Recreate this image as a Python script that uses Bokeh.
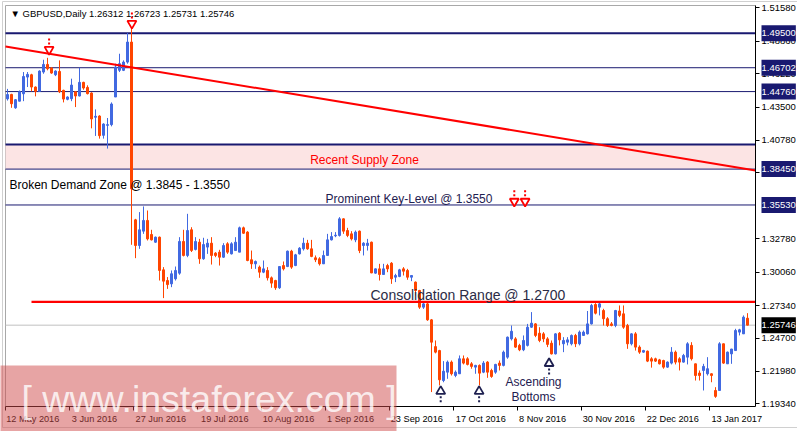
from bokeh.plotting import figure
from bokeh.models import ColumnDataSource, FixedTicker, Range1d, Label, LinearAxis, PrintfTickFormatter
from bokeh.core.properties import value
from bokeh.embed import file_html
from bokeh.resources import INLINE

# ---------------- data ----------------
symbol = "GBPUSD,Daily"
opens = [1.4417,1.4453,1.4344,1.4398,1.4458,1.4594,1.4613,1.4513,1.4478,1.4635,
         1.4697,1.4668,1.4613,1.4640,1.4486,1.4413,1.4418,1.4475,1.4440,1.4551,
         1.4510,1.4464,1.4267,1.4277,1.4120,1.4201,1.4207,1.4432,1.4649,1.4649,
         1.4716,1.4879,1.3432,1.3223,1.3340,1.3427,1.3313,1.3250,1.3291,1.3025,
         1.2938,1.2911,1.2952,1.2998,1.3256,1.3142,1.3351,1.3191,1.3250,1.3115,
         1.3210,1.3242,1.3161,1.3169,1.3128,1.3237,1.3155,1.3182,1.3169,1.3367,
         1.3332,1.3107,1.3074,1.3047,1.3006,1.3020,1.2960,1.2938,1.2879,1.3060,
         1.3052,1.3177,1.3060,1.3155,1.3196,1.3242,1.3196,1.3123,1.3115,1.3074,
         1.3142,1.3269,1.3302,1.3305,1.3440,1.3345,1.3318,1.3269,1.3340,1.3223,
         1.3223,1.3250,1.2998,1.3033,1.2987,1.3060,1.3079,1.2965,1.2971,1.3033,
         1.3020,1.2965,1.2925,1.2857,1.2721,1.2748,1.2618,1.2400,1.2368,1.2124,
         1.2192,1.2274,1.2165,1.2179,1.2301,1.2301,1.2260,1.2233,1.2247,1.2192,
         1.2274,1.2206,1.2192,1.2266,1.2247,1.2314,1.2463,1.2463,1.2410,1.2374,
         1.2410,1.2558,1.2585,1.2509,1.2504,1.2463,1.2428,1.2341,1.2509,1.2423,
         1.2436,1.2423,1.2491,1.2423,1.2491,1.2504,1.2585,1.2743,1.2721,1.2694,
         1.2627,1.2585,1.2572,1.2690,1.2667,1.2572,1.2423,1.2504,1.2396,1.2355,
         1.2363,1.2301,1.2301,1.2292,1.2287,1.2233,1.2266,1.2355,1.2301,1.2274,
         1.2314,1.2410,1.2260,1.2185,1.2206,1.2179,1.2179,1.2043,1.2043,1.2423,
         1.2260,1.2341,1.2368,1.2518,1.2504,1.26312]
highs = [1.4498,1.4458,1.4415,1.4485,1.4635,1.4635,1.4621,1.4518,1.4649,1.4735,
         1.4751,1.4676,1.4649,1.4730,1.4491,1.4437,1.4581,1.4480,1.4670,1.4556,
         1.4527,1.4470,1.4331,1.4283,1.4218,1.4261,1.4388,1.4703,1.4784,1.4730,
         1.4952,1.5000,1.3440,1.3495,1.3541,1.3508,1.3351,1.3296,1.3296,1.3047,
         1.2966,1.3020,1.3052,1.3291,1.3351,1.3481,1.3372,1.3291,1.3277,1.3286,
         1.3277,1.3291,1.3169,1.3188,1.3242,1.3250,1.3250,1.3291,1.3377,1.3377,
         1.3340,1.3182,1.3101,1.3060,1.3101,1.3047,1.2971,1.2944,1.3055,1.3093,
         1.3182,1.3188,1.3155,1.3210,1.3286,1.3269,1.3269,1.3142,1.3128,1.3182,
         1.3318,1.3332,1.3332,1.3454,1.3444,1.3367,1.3340,1.3345,1.3345,1.3250,
         1.3277,1.3255,1.3036,1.3074,1.3074,1.3074,1.3088,1.2993,1.3033,1.3047,
         1.3033,1.2982,1.2930,1.2862,1.2762,1.2762,1.2625,1.2450,1.2374,1.2282,
         1.2287,1.2287,1.2206,1.2328,1.2328,1.2314,1.2274,1.2252,1.2255,1.2282,
         1.2282,1.2220,1.2260,1.2287,1.2368,1.2482,1.2572,1.2477,1.2423,1.2491,
         1.2585,1.2681,1.2591,1.2558,1.2518,1.2477,1.2450,1.2509,1.2518,1.2477,
         1.2477,1.2499,1.2504,1.2531,1.2531,1.2690,1.2748,1.2754,1.2762,1.2708,
         1.2640,1.2600,1.2699,1.2735,1.2735,1.2585,1.2509,1.2518,1.2410,1.2374,
         1.2368,1.2314,1.2310,1.2300,1.2293,1.2280,1.2396,1.2368,1.2314,1.2341,
         1.2436,1.2436,1.2262,1.2206,1.2260,1.2314,1.2182,1.2070,1.2436,1.2425,
         1.2360,1.2382,1.2545,1.2545,1.2654,1.26723]
lows = [1.4403,1.4344,1.4336,1.4396,1.4398,1.4513,1.4478,1.4437,1.4476,1.4621,
        1.4649,1.4621,1.4602,1.4464,1.4388,1.4405,1.4398,1.4350,1.4437,1.4491,
        1.4453,1.4177,1.4115,1.4093,1.4093,1.4012,1.4193,1.4432,1.4635,1.4643,
        1.4703,1.3229,1.3120,1.3196,1.3318,1.3264,1.3264,1.3245,1.2938,1.2795,
        1.2870,1.2884,1.2938,1.2985,1.3134,1.3128,1.3170,1.3183,1.3074,1.3107,
        1.3155,1.3068,1.3128,1.3060,1.3123,1.3155,1.3150,1.3182,1.3169,1.3318,
        1.3095,1.3033,1.3033,1.2960,1.2998,1.2938,1.2879,1.2862,1.2870,1.3020,
        1.3047,1.3033,1.3055,1.3150,1.3182,1.3188,1.3128,1.3088,1.3060,1.3074,
        1.3142,1.3264,1.3291,1.3296,1.3318,1.3291,1.3264,1.3250,1.3161,1.3142,
        1.3182,1.2998,1.2993,1.2938,1.2987,1.3006,1.2911,1.2925,1.2965,1.2979,
        1.2944,1.2933,1.2816,1.2707,1.2707,1.2610,1.2030,1.2345,1.2084,1.2110,
        1.2138,1.2165,1.2151,1.2179,1.2255,1.2247,1.2220,1.2179,1.2084,1.2184,
        1.2146,1.2146,1.2179,1.2206,1.2239,1.2301,1.2450,1.2390,1.2363,1.2363,
        1.2401,1.2553,1.2477,1.2436,1.2436,1.2396,1.2336,1.2336,1.2410,1.2355,
        1.2410,1.2410,1.2396,1.2410,1.2488,1.2499,1.2580,1.2662,1.2654,1.2572,
        1.2560,1.2565,1.2558,1.2640,1.2545,1.2382,1.2410,1.2368,1.2341,1.2350,
        1.2274,1.2229,1.2275,1.2255,1.2220,1.2228,1.2255,1.2255,1.2206,1.2270,
        1.2255,1.2287,1.2124,1.2124,1.2043,1.2165,1.2110,1.1983,1.2043,1.2260,
        1.2260,1.2260,1.2368,1.2491,1.2504,1.25731]
closes = [1.4452,1.4377,1.4410,1.4475,1.4599,1.4616,1.4513,1.4478,1.4643,1.4697,
          1.4662,1.4627,1.4643,1.4475,1.4415,1.4432,1.4529,1.4440,1.4551,1.4505,
          1.4459,1.4253,1.4275,1.4117,1.4212,1.4207,1.4375,1.4676,1.4703,1.4716,
          1.4879,1.3685,1.3223,1.3351,1.3427,1.3277,1.3269,1.3291,1.3020,1.2933,
          1.2905,1.2993,1.3020,1.3256,1.3142,1.3345,1.3183,1.3256,1.3115,1.3231,
          1.3242,1.3142,1.3142,1.3128,1.3223,1.3169,1.3237,1.3250,1.3367,1.3323,
          1.3101,1.3074,1.3093,1.3006,1.3033,1.2960,1.2917,1.2879,1.3052,1.3033,
          1.3177,1.3047,1.3147,1.3201,1.3242,1.3196,1.3134,1.3107,1.3074,1.3142,
          1.3269,1.3296,1.3307,1.3440,1.3340,1.3305,1.3277,1.3332,1.3182,1.3242,
          1.3242,1.3000,1.3033,1.2987,1.3033,1.3033,1.2952,1.2979,1.3025,1.3014,
          1.2965,1.2979,1.2857,1.2721,1.2748,1.2618,1.2436,1.2355,1.2130,1.2200,
          1.2274,1.2179,1.2192,1.2301,1.2266,1.2255,1.2239,1.2247,1.2184,1.2266,
          1.2192,1.2157,1.2255,1.2247,1.2355,1.2477,1.2525,1.2396,1.2374,1.2450,
          1.2558,1.2591,1.2491,1.2450,1.2463,1.2418,1.2341,1.2504,1.2455,1.2450,
          1.2455,1.2491,1.2423,1.2518,1.2518,1.2585,1.2735,1.2672,1.2748,1.2627,
          1.2572,1.2572,1.2694,1.2654,1.2558,1.2423,1.2504,1.2396,1.2355,1.2368,
          1.2282,1.2282,1.2282,1.2260,1.2233,1.2274,1.2355,1.2274,1.2274,1.2328,
          1.2423,1.2301,1.2165,1.2165,1.2239,1.2220,1.2165,1.1995,1.2423,1.2266,
          1.2355,1.2380,1.2531,1.2537,1.2640,1.25746]

date_tick_bars = [0, 16, 32, 48, 64, 80, 96, 112, 128, 144, 160, 176]
date_tick_labels = ["12 May 2016", "3 Jun 2016", "27 Jun 2016", "19 Jul 2016", "10 Aug 2016",
                    "1 Sep 2016", "23 Sep 2016", "17 Oct 2016", "8 Nov 2016", "30 Nov 2016",
                    "22 Dec 2016", "13 Jan 2017"]
price_ticks = [1.5158, 1.4886, 1.4622, 1.4350, 1.4078, 1.3814, 1.3278, 1.3006,
               1.2734, 1.2470, 1.2198, 1.1934]

level_lines = [1.49500, 1.46702, 1.44760, 1.38450, 1.35530]
supply_zone = (1.3845, 1.4045)
trend_pts_x = [-0.5, 187.0]
trend_pts_y = [1.4843, 1.3834]
consolidation_level = 1.2765
consolidation_start = 6

down_arrow_x = [10.4, 31.1, 126.7, 129.4]
down_arrow_tip = [1.4786, 1.4998, 1.3550, 1.3550]
up_arrow_x = [108.3, 117.9, 135.4]
up_arrow_tip = [1.2069, 1.2069, 1.2296]

watermark = "[ www.instaforex.com ]"

# ---------------- geometry helpers (pixel <-> data) ----------------
W, H = 797, 431
BAR_PX = 4.0
PPX = 0.000814          # price per pixel

def px2x(px):
    return -0.5 + (px - 5) / BAR_PX

def py2y(py):
    return 1.5158 - (py - 7.3) * PPX

X0, X1 = px2x(5), px2x(755)       # chart area
Y0, Y1 = py2y(406), py2y(5)

p = figure(width=W, height=H, output_backend="svg", toolbar_location=None,
           x_range=Range1d(px2x(0), px2x(W)), y_range=Range1d(py2y(H), py2y(0)),
           x_axis_location=None, y_axis_location=None,
           min_border_left=0, min_border_top=0, min_border_bottom=0, min_border_right=0)
p.background_fill_color = "white"
p.border_fill_color = "white"
p.outline_line_color = None
p.grid.visible = False

FONT = "Liberation Sans"
NAVY = "#191970"

# window border and chart border
p.quad(left=[px2x(2)], right=[px2x(798)], bottom=[py2y(427)], top=[py2y(1)],
       fill_color=None, line_color="#D0D0D0", line_width=1)
p.segment(x0=[X0, X0], y0=[Y0, Y1], x1=[X0, X1], y1=[Y1, Y1], line_color="#A8A8A8", line_width=1)

# supply zone and level lines
p.quad(left=[X0], right=[X1], bottom=[supply_zone[0]], top=[supply_zone[1]],
       fill_color="#FCE4E4", line_color=None)
p.segment(x0=[X0], x1=[X1], y0=[supply_zone[1]], y1=[supply_zone[1]], line_color=NAVY, line_width=2)
p.segment(x0=[X0], x1=[X1], y0=[level_lines[0]], y1=[level_lines[0]], line_color=NAVY, line_width=2)
p.segment(x0=[X0] * 4, x1=[X1] * 4, y0=level_lines[1:], y1=level_lines[1:], line_color=NAVY, line_width=1)
p.segment(x0=[X0], x1=[X1], y0=[closes[-1]], y1=[closes[-1]], line_color="#C0C0C0", line_width=1)

# candles
xs = list(range(len(opens)))
colors = ["#4169E1" if c >= o else "#FF4500" for o, c in zip(opens, closes)]
src = ColumnDataSource(dict(x=xs, o=opens, h=highs, l=lows, c=closes,
                            top=[max(o, c) for o, c in zip(opens, closes)],
                            bot=[min(o, c) for o, c in zip(opens, closes)],
                            color=colors))
p.segment(x0="x", y0="l", x1="x", y1="h", line_color="color", line_width=1, source=src)
p.vbar(x="x", width=0.5, top="top", bottom="bot", fill_color="color", line_color="color",
       line_width=1, source=src)

# red lines
p.line(trend_pts_x, trend_pts_y, line_color="#FF0000", line_width=2)
p.line([consolidation_start, X1], [consolidation_level, consolidation_level],
       line_color="#FF0000", line_width=2.2)

# arrows
p.segment(x0=down_arrow_x, x1=down_arrow_x, y0=[t + 9 * PPX for t in down_arrow_tip],
          y1=[t + 17 * PPX for t in down_arrow_tip], line_color="#FF0000", line_width=2,
          line_dash="2 2")
p.scatter(down_arrow_x, [t + 4 * PPX for t in down_arrow_tip], marker="inverted_triangle",
          size=9, fill_color="white", line_color="#FF0000", line_width=1.8)
p.segment(x0=up_arrow_x, x1=up_arrow_x, y0=[t - 9 * PPX for t in up_arrow_tip],
          y1=[t - 17 * PPX for t in up_arrow_tip], line_color="#1E2050", line_width=2,
          line_dash="2 2")
p.scatter(up_arrow_x, [t - 4 * PPX for t in up_arrow_tip], marker="triangle",
          size=9, fill_color="white", line_color="#1E2050", line_width=1.8)

# texts
def txt(x, y, s, color, size, align="left", baseline="middle", font=FONT, alpha=1.0):
    p.text(x=[x], y=[y], text=[s], text_color=color, text_font=value(font),
           text_font_size=size, text_align=align, text_baseline=baseline, text_alpha=alpha)

header = "\u25BC  %s  %.5f %.5f %.5f %.5f" % (symbol, opens[-1], highs[-1], lows[-1], closes[-1])
txt(px2x(10), py2y(13), header, "black", "9.5px")
txt(px2x(364), py2y(159), "Recent Supply Zone", "#FF0000", "12px", align="center")
txt(px2x(9), py2y(184), "Broken Demand Zone @ 1.3845 - 1.3550", "black", "12px")
txt(px2x(325), py2y(198), "Prominent Key-Level @ 1.3550", "#1E2050", "12px")
txt(px2x(370), py2y(294), "Consolidation Range @ 1.2700", "#2B2B45", "14px")
txt(px2x(533), py2y(381), "Ascending", "#1E2050", "12px", align="center")
txt(px2x(533), py2y(396), "Bottoms", "#1E2050", "12px", align="center")

# axes placed at the edges of the chart area
xaxis = LinearAxis(fixed_location=Y0, bounds=(X0, X1))
tick_pos = [b - 0.5 for b in date_tick_bars]
centers = [round(t + (2 + 2.3 * len(l)) / BAR_PX, 2) for t, l in zip(tick_pos, date_tick_labels)]
xaxis.ticker = FixedTicker(ticks=centers, minor_ticks=tick_pos)
xaxis.major_label_overrides = {c: l for c, l in zip(centers, date_tick_labels)}
xaxis.major_tick_out = 0
xaxis.major_tick_in = 0
xaxis.minor_tick_out = 4
xaxis.minor_tick_in = 0
xaxis.minor_tick_line_color = "black"
xaxis.axis_line_color = "black"
xaxis.major_label_standoff = 3
xaxis.major_label_text_font = FONT
xaxis.major_label_text_font_size = "9.2px"
xaxis.major_label_text_color = "black"
p.add_layout(xaxis, "below")

yaxis = LinearAxis(fixed_location=X1, bounds=(Y0, Y1))
yaxis.ticker = FixedTicker(ticks=price_ticks)
yaxis.formatter = PrintfTickFormatter(format="%.5f")
yaxis.major_tick_out = 4
yaxis.major_tick_in = 0
yaxis.minor_tick_line_color = None
yaxis.axis_line_color = "black"
yaxis.major_tick_line_color = "black"
yaxis.major_label_standoff = 2
yaxis.major_label_text_font = FONT
yaxis.major_label_text_font_size = "9.5px"
yaxis.major_label_text_color = "black"
p.add_layout(yaxis, "right")

# price tags on the right axis
for lv in level_lines:
    p.add_layout(Label(x=X1, y=lv, x_offset=6, text="%.5f" % lv, text_color="white",
                       text_font=FONT, text_font_size="9.5px", text_baseline="middle",
                       background_fill_color=NAVY, padding=(0, 5)))
p.add_layout(Label(x=X1, y=closes[-1], x_offset=6, text="%.5f" % closes[-1], text_color="white",
                   text_font=FONT, text_font_size="9.5px", text_baseline="middle",
                   background_fill_color="black", padding=(0, 5)))

# watermark (drawn over the lower-left corner, like the reference)
wm = p.quad(left=[px2x(0)], right=[px2x(396)], bottom=[py2y(432)], top=[py2y(365)],
            fill_color="#D04A4A", fill_alpha=0.5, line_color=None)
wm.level = "overlay"
wmt = p.text(x=[px2x(21)], y=[py2y(398)], text=[watermark], text_color="white", text_alpha=0.8,
             text_font=value(FONT), text_font_size="37.5px", text_align="left",
             text_baseline="middle")
wmt.level = "overlay"

open("out.html", "w").write(file_html(p, INLINE))
